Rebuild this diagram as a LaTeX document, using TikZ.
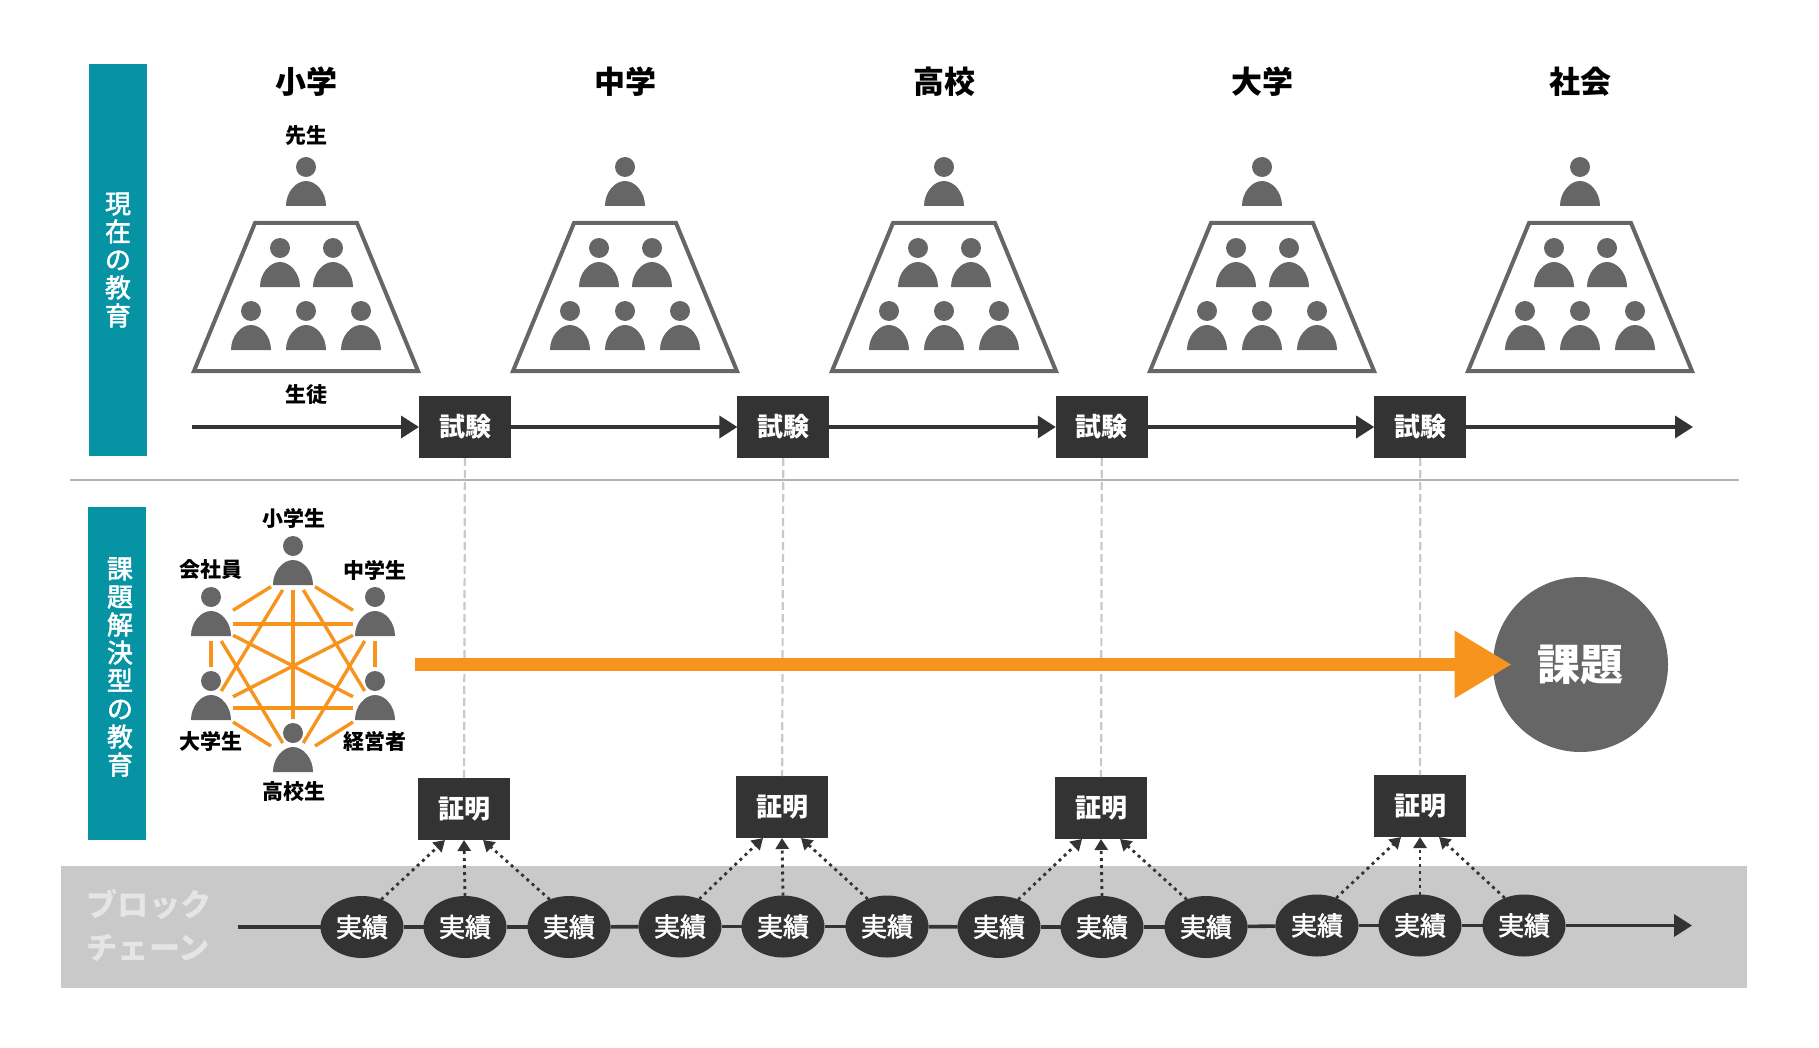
\documentclass[tikz,border=0pt]{standalone}
\usepackage{fontspec}
\setmainfont{Noto Sans CJK JP}
\newfontfamily\mediumface[FakeBold=2]{Noto Sans CJK JP}
\usetikzlibrary{shapes.geometric, arrows.meta, positioning, calc}

\definecolor{tealband}{HTML}{0693A4}
\definecolor{darkbox}{HTML}{333333}
\definecolor{figgray}{HTML}{666666}
\definecolor{linkorange}{HTML}{F7941D}
\definecolor{chainband}{HTML}{C9C9C9}

% #1 name, #2 centre of the head
\newcommand{\person}[2]{
    \node[persona] (#1) at (#2) {};
    \fill[figgray] (#1) ++(0,-27) circle[radius=10];
    \fill[figgray] (#1) ++(-20,12) .. controls +(0,-14) and +(-10,0) .. ++(20,-25) .. controls +(10,0) and +(0,-14) .. ++(20,25) -- cycle;
}

\begin{document}
\begin{tikzpicture}[
    x=0.5pt, y=-0.5pt,
    persona/.style = {rectangle, inner sep=0pt, outer sep=0pt, minimum width=22pt, minimum height=17pt, yshift=-13.5pt},
    band/.style = {rectangle, fill=tealband, inner sep=0pt, outer sep=0pt, minimum width=29pt},
    bandtext/.style = {text=white, align=center, font=\mediumface\fontsize{13}{14}\selectfont},
    schooltitle/.style = {font=\fontsize{15.5}{17}\selectfont\bfseries},
    tag/.style = {font=\fontsize{10.5}{12}\selectfont\bfseries},
    darkbox/.style = {rectangle, fill=darkbox, text=white, inner sep=0pt, outer sep=0pt, minimum width=46pt, minimum height=31pt, font=\fontsize{13}{15}\selectfont\bfseries},
    record/.style = {ellipse, fill=darkbox, text=white, inner sep=0pt, outer sep=0pt, minimum width=41.5pt, minimum height=31pt, font=\mediumface\fontsize{13}{15}\selectfont},
    flow/.style = {draw=darkbox, line width=1.8pt},
    flowtip/.style = {flow, -{Triangle[length=9pt, width=11pt]}},
    link/.style = {draw=linkorange, line width=1.7pt},
    guide/.style = {draw=chainband, line width=1.1pt, dash pattern=on 4pt off 2pt},
    evidence/.style = {draw=darkbox, line width=1.4pt, dash pattern=on 1.5pt off 2pt, -{Triangle[length=5.5pt, width=6.5pt]}}]

    \useasboundingbox (0,0) rectangle (1819,1048);

    \fill[chainband] (61,866) rectangle (1747,988);
    \node[band, minimum height=196pt] (bandNow) at (118,260) {};
    \node[bandtext] (bandNowText) at (118,260) {現\\在\\の\\教\\育};
    \node[band, minimum height=166.5pt] (bandTask) at (116.5,673.5) {};
    \node[bandtext] (bandTaskText) at (120,667) {課\\題\\解\\決\\型\\の\\教\\育};

    % one column per school
    \foreach \cx/\nm/\school in {306/A/小学, 625/B/中学, 944/C/高校, 1262/D/大学, 1580/E/社会} {
        \begin{scope}[shift={(\cx,0)}]
            \node[schooltitle] (title\nm) at (0,81.5) {\school};
            \person{teacher\nm}{0,167}
            \draw[figgray, line width=2pt] (-51,223) -- (51,223) -- (112,371) -- (-112,371) -- cycle;
            \person{pupil\nm a}{-26,248}
            \person{pupil\nm b}{27,248}
            \person{pupil\nm c}{-55,311}
            \person{pupil\nm d}{0,311}
            \person{pupil\nm e}{55,311}
        \end{scope}
    }
    \node[tag] (teacherTag) at (306,136) {先生};
    \node[tag] (pupilTag) at (306,395) {生徒};

    \node[darkbox] (examA) at (465,427) {試験};
    \node[darkbox, right=113.2pt of examA] (examB) {試験};
    \node[darkbox, right=113.2pt of examB] (examC) {試験};
    \node[darkbox, right=113.2pt of examC] (examD) {試験};
    \coordinate (flowStart) at (192,427);
    \coordinate (flowEnd) at (1693,427);

    \draw[flowtip] (flowStart) -- (examA);
    \draw[flowtip] (examA) -- (examB);
    \draw[flowtip] (examB) -- (examC);
    \draw[flowtip] (examC) -- (examD);
    \draw[flowtip] (examD) -- (flowEnd);

    \coordinate (ruleLeft) at (70,480);
    \coordinate (ruleRight) at (1739,480);
    \draw[draw=black!30, line width=0.6pt] (ruleLeft) -- (ruleRight);

    \node[darkbox] (proofA) at (464,809) {証明};
    \node[darkbox] (proofB) at (782,807) {証明};
    \node[darkbox] (proofC) at (1101,808) {証明};
    \node[darkbox] (proofD) at (1420,806) {証明};

    \draw[guide] (examA) -- (proofA);
    \draw[guide] (examB) -- (proofB);
    \draw[guide] (examC) -- (proofC);
    \draw[guide] (examD) -- (proofD);

    % six people, all joined
    \person{netA}{293,546}
    \person{netB}{375,597}
    \person{netC}{375,681}
    \person{netD}{293,733}
    \person{netE}{211,681}
    \person{netF}{211,597}
    \node[tag] (netAtag) at (294,518) {小学生};
    \node[tag] (netBtag) at (375,570) {中学生};
    \node[tag] (netCtag) at (375,741) {経営者};
    \node[tag] (netDtag) at (294,792) {高校生};
    \node[tag] (netEtag) at (211,741) {大学生};
    \node[tag] (netFtag) at (211,570) {会社員};

    \foreach \a/\b in {netA/netB, netA/netC, netA/netE, netA/netF, netB/netD, netB/netE, netB/netF, netC/netD, netC/netE, netC/netF, netD/netE, netD/netF}
        \draw[link] (\a) -- (\b);
    \draw[link, shorten >=12pt] (netA) -- (netD);
    \draw[link, shorten >=12pt] (netB) -- (netC);
    \draw[link, shorten >=12pt] (netF) -- (netE);

    \node[circle, fill=figgray, inner sep=0pt, minimum size=87.5pt, text=white, font=\fontsize{21.5}{23}\selectfont\bfseries] (task) at (1580.5,664.5) {\raisebox{-1pt}{課題}};
    \coordinate (taskStart) at (415,664.5);
    \draw[draw=linkorange, line width=6.5pt, -{Triangle[length=28.5pt, width=32pt, fill=linkorange]}] (taskStart) -- ([xshift=9.5pt]task.west);

    \node[text=black!10, align=left, font=\fontsize{15.6}{21.5}\selectfont\bfseries] (chainName) at (149,925) {ブロック\\チェーン};

    \node[record] (r1) at (362,927) {実績};
    \node[record, right=10pt of r1] (r2) {実績};
    \node[record, right=10.5pt of r2] (r3) {実績};
    \node[record] (r4) at (680,926.5) {実績};
    \node[record, right=10pt of r4] (r5) {実績};
    \node[record, right=10.5pt of r5] (r6) {実績};
    \node[record] (r7) at (999,927) {実績};
    \node[record, right=10pt of r7] (r8) {実績};
    \node[record, right=10.5pt of r8] (r9) {実績};
    \node[record] (r10) at (1317,925.5) {実績};
    \node[record, right=10pt of r10] (r11) {実績};
    \node[record, right=10.5pt of r11] (r12) {実績};
    \coordinate (chainStart) at (238,927);
    \coordinate (chainEnd) at (1692,925.5);

    \draw[flow] (chainStart) -- (r1);
    \foreach \a/\b in {r1/r2, r2/r3, r3/r4, r4/r5, r5/r6, r6/r7, r7/r8, r8/r9, r9/r10, r10/r11, r11/r12}
        \draw[flow] (\a) -- (\b);
    \draw[flowtip] (r12) -- (chainEnd);

    \foreach \l/\m/\r/\p in {r1/r2/r3/proofA, r4/r5/r6/proofB, r7/r8/r9/proofC, r10/r11/r12/proofD} {
        \draw[evidence] (\l.55) -- ([xshift=-9.5pt]\p.south);
        \draw[evidence] (\m.north) -- (\p.south);
        \draw[evidence] (\r.125) -- ([xshift=9.5pt]\p.south);
    }
\end{tikzpicture}
\end{document}
